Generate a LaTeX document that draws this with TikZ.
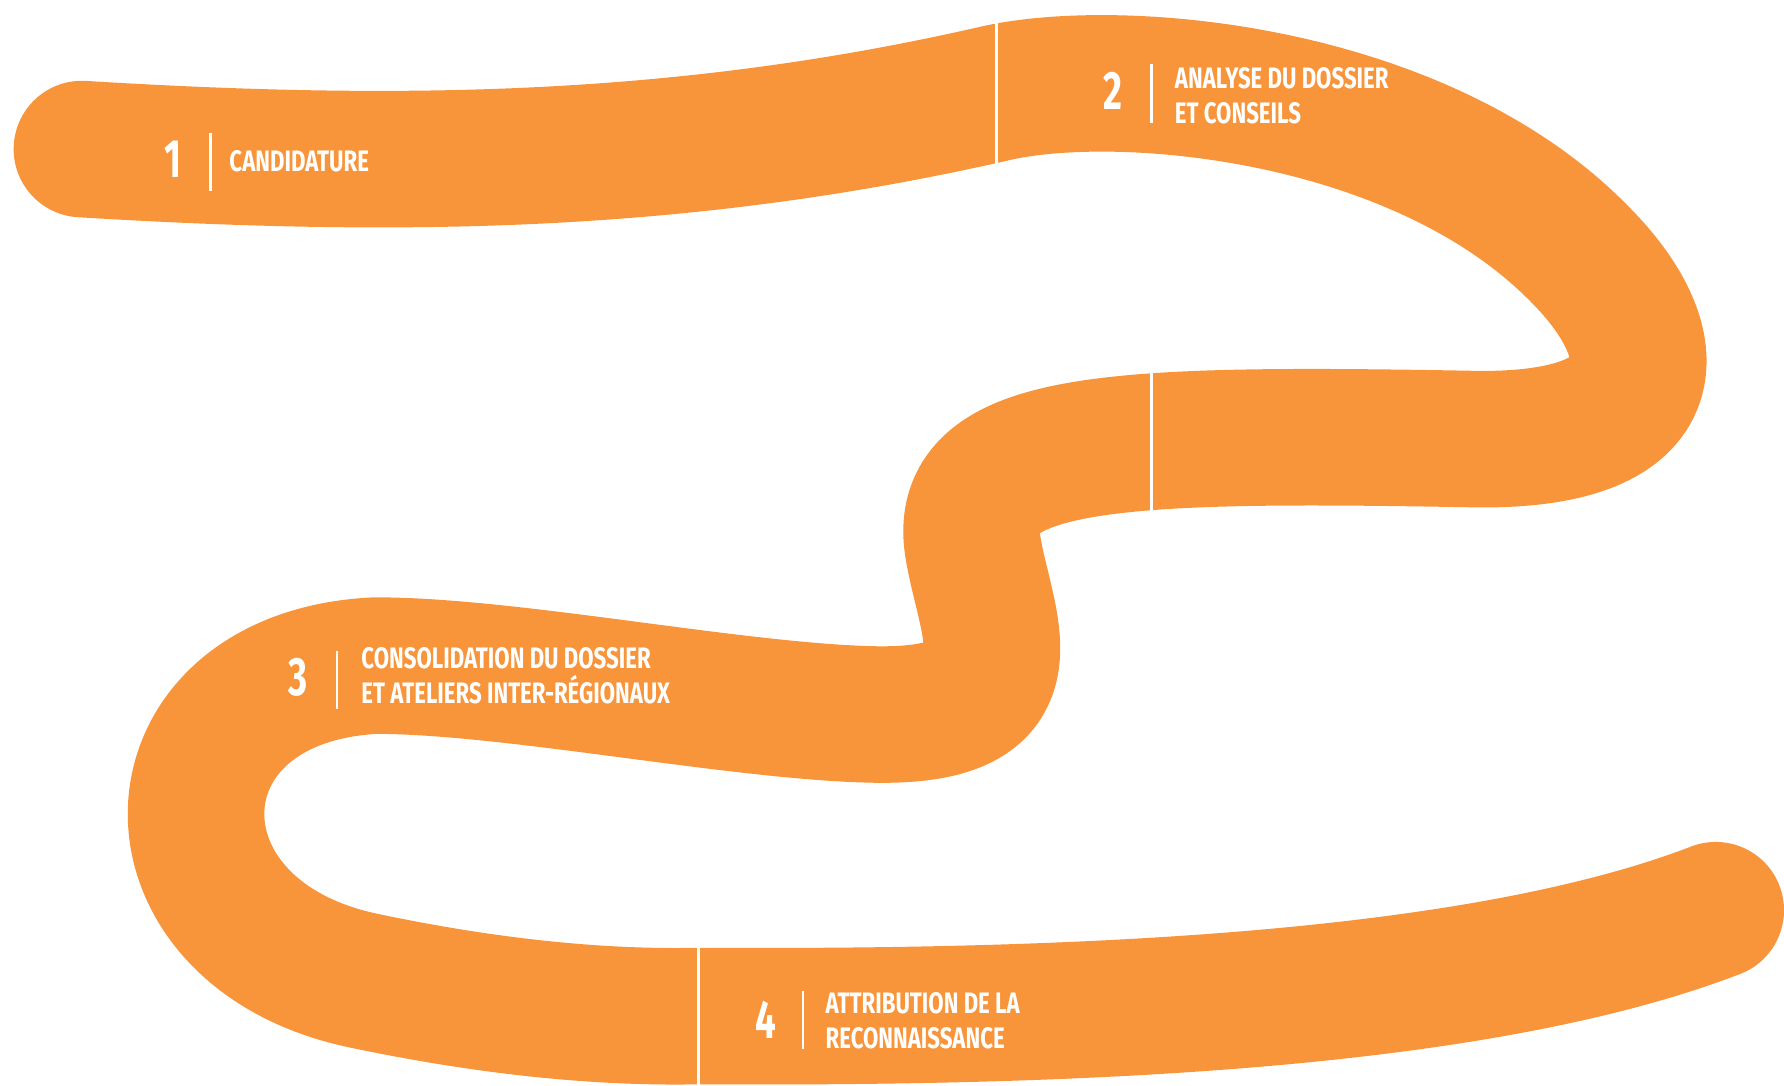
\documentclass[tikz,border=0pt]{standalone}
\usepackage{fontspec}
\newfontfamily\stepfont[FakeStretch=0.75]{Fira Sans}
\newfontfamily\numfont[FakeStretch=0.68]{Fira Sans}
\definecolor{roadorange}{RGB}{248,148,58}

\begin{document}
\begin{tikzpicture}[x=0.1mm,y=-0.1mm,
    road/.style={roadorange,line width=12mm,line cap=round,line join=round},
    cut/.style={white,line width=0.9pt},
    tick/.style={white,line width=0.6pt},
    num/.style={white,inner sep=0,font=\numfont\bfseries\fontsize{13.5}{13.5}\selectfont},
    steptext/.style={white,inner sep=0,anchor=west,align=left,font=\stepfont\bfseries\fontsize{7.4}{8.6}\selectfont}]
\useasboundingbox (0,0) rectangle (1568,954);
\draw[road] (72,131) .. controls (350,148) and (600,145) .. (875,82)
    .. controls (985,57) and (1250,80) .. (1390,225)
    .. controls (1462,298) and (1475,387) .. (1300,386)
    .. controls (980,380) and (840,385) .. (855,480)
    .. controls (866,550) and (915,630) .. (770,628)
    .. controls (650,626) and (450,585) .. (330,585)
    .. controls (125,595) and (118,820) .. (320,862)
    .. controls (420,883) and (520,895) .. (614,893)
    .. controls (950,895) and (1300,880) .. (1508,800);
\draw[cut] (876,10) -- (876,155);
\draw[cut] (1012,315) -- (1012,456);
\draw[cut] (614,822) -- (614,960);
\draw
    (152,140) node[num]      (n1) {1}
    (201,142) node[steptext] (s1) {CANDIDATURE}
    (978,80)  node[num]      (n2) {2}
    (1032,84) node[steptext] (s2) {ANALYSE DU DOSSIER\\ET CONSEILS}
    (262,595) node[num]      (n3) {3}
    (317,594) node[steptext] (s3) {CONSOLIDATION DU DOSSIER\\ET ATELIERS INTER-RÉGIONAUX}
    (673,896) node[num]      (n4) {4}
    (725,897) node[steptext] (s4) {ATTRIBUTION DE LA\\RECONNAISSANCE};
\draw[tick] (185,117) -- (185,168);
\draw[tick] (1012,56) -- (1012,108);
\draw[tick] (296,572) -- (296,623);
\draw[tick] (706,871) -- (706,922);
\end{tikzpicture}
\end{document}
